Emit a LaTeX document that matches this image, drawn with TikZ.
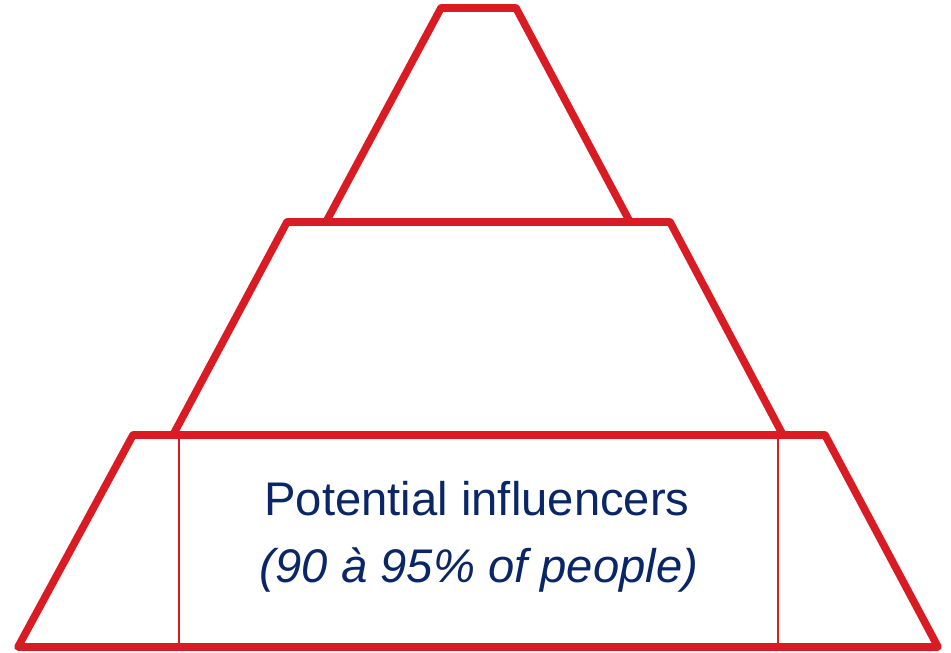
\documentclass[tikz,border=0pt]{standalone}
\usepackage{fontspec}
\setmainfont{Liberation Sans}
\definecolor{pyrred}{RGB}{217,27,35}
\definecolor{pyrblue}{RGB}{10,38,102}

\begin{document}
\begin{tikzpicture}[x=0.5pt, y=-0.5pt,
    layer/.style={pyrred, line width=3.8pt, line join=round},
    divider/.style={pyrred, line width=0.75pt},
    label/.style={pyrblue, font=\fontsize{23.6}{28}\selectfont, anchor=base}]
    % --- level heights ---
    \def\yTop{8}      % top edge of the peak
    \def\yA{222}      % peak / middle boundary
    \def\yB{435}      % middle / base boundary
    \def\yBase{647}   % ground line

    \useasboundingbox (0,0) rectangle (951,652);

    % --- thin dividers inside the base layer ---
    \draw[divider] (179,\yB) -- (179,\yBase);
    \draw[divider] (778,\yB) -- (778,\yBase);

    % --- the three layers ---
    % peak
    \draw[layer] (326,\yA) -- (441,\yTop) -- (516,\yTop) -- (630,\yA);
    % middle
    \draw[layer] (173,\yB) -- (287,\yA) -- (670,\yA) -- (783,\yB);
    % base
    \draw[layer] (18,\yBase) -- (133,\yB) -- (825,\yB) -- (938,\yBase) -- cycle;

    % --- text in the base layer ---
    \node[label] (influencers) at (477,515) {Potential influencers};
    \node[label, font=\fontsize{23.6}{28}\selectfont\itshape] (share) at (479,582) {(90 à 95\% of people)};
\end{tikzpicture}
\end{document}
